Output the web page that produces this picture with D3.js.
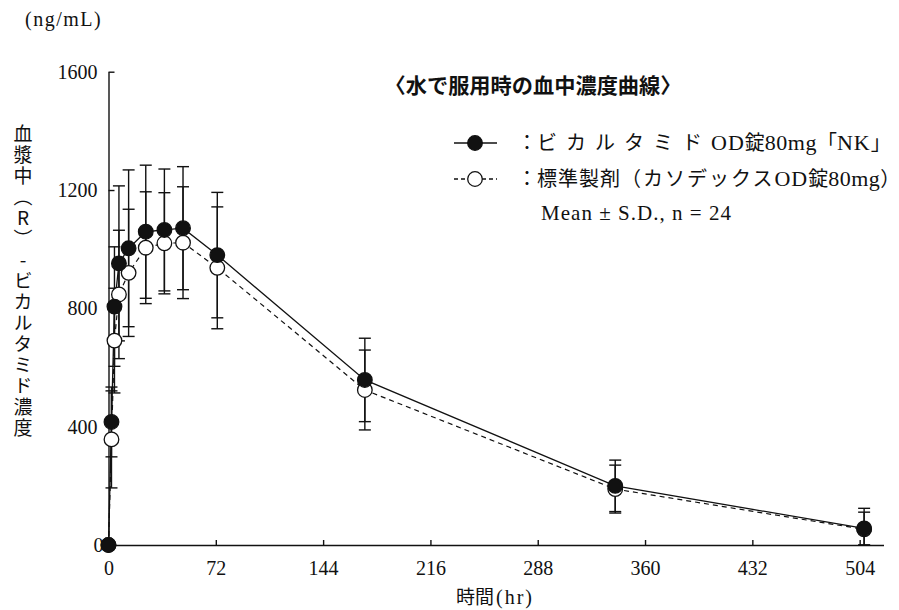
<!DOCTYPE html>
<html><head><meta charset="utf-8">
<script src="https://cdn.jsdelivr.net/npm/d3@7"></script>
<style>
html,body{margin:0;padding:0;background:#fff;}
svg{display:block;}
</style></head>
<body>
<script>
// ---- data ----
const hours    = [0, 2, 4, 7, 13.5, 25, 37.5, 50, 73, 172, 340, 507];
const testMean = [0, 416, 806, 952, 1003, 1059, 1065, 1071, 980, 558, 200, 56];
const testSD   = [0, 118, 202, 262, 265, 225, 206, 208, 212, 141, 87, 68];
const refMean  = [0, 357, 691, 847, 920, 1005, 1020, 1022, 937, 524, 189, 53];
const refSD    = [0, 164, 177, 217, 215, 189, 171, 189, 206, 135, 81, 58];
const yTicks   = [0, 400, 800, 1200, 1600];
const xTicks   = [0, 72, 144, 216, 288, 360, 432, 504];
// legend text split into segments: [text, font kind, letter-spacing]
const legend1 = [["：", "cjk", 0], ["ビカルタミド", "cjk", 9], ["OD", "serif", 1], ["錠", "cjk", 0], ["80mg", "serif", 0.5], ["「", "cjk", 0], ["NK", "serif", 1], ["」", "cjk", 0]];
const legend2 = [["：", "cjk", 0], ["標準製剤", "cjk", 1], ["（カソデックス", "cjk", 2], ["OD", "serif", 1], ["錠", "cjk", 0], ["80mg", "serif", 0.5], ["）", "cjk", 0]];
const statNote = "Mean ± S.D., n = 24";
const titleText = "〈水で服用時の血中濃度曲線〉";
const yUnit = "(ng/mL)";
const yTitle = "血漿中（R）-ビカルタミド濃度";
const xTitleJ = "時間";
const xTitleL = "(hr)";

const W = 899, H = 610;
const serif = "'Liberation Serif','DejaVu Serif',serif";
const cjk = "'Noto Sans CJK JP',sans-serif";
const ink = "#111";

const svg = d3.select("body").append("svg").attr("width", W).attr("height", H);

const x = d3.scaleLinear().domain([0, 520]).range([108.5, 883.5]);
const y = d3.scaleLinear().domain([0, 1600]).range([545, 71.7]);

// axes
const yAxis = d3.axisLeft(y).tickValues(yTicks).tickFormat(d3.format("d"))
  .tickSizeInner(-6).tickSizeOuter(0).tickPadding(11);
const xAxis = d3.axisBottom(x).tickValues(xTicks).tickFormat(d3.format("d"))
  .tickSizeInner(-5).tickSizeOuter(0).tickPadding(16);

const gy = svg.append("g").attr("transform", `translate(${x(0)},0)`).call(yAxis);
const gx = svg.append("g").attr("transform", `translate(0,${y(0)})`).call(xAxis);
[gx, gy].forEach(g => {
  g.attr("font-family", serif);
  g.selectAll("path,line").attr("stroke", ink).attr("stroke-width", 1.4);
  g.selectAll("text").attr("font-family", serif).attr("font-size", 20).attr("fill", ink);
});
gy.selectAll(".tick").filter(d => d === 0).select("text").attr("dx", 6);

const data = hours.map((h, i) => ({h, tm: testMean[i], ts: testSD[i], rm: refMean[i], rs: refSD[i]}));

// lines
const lineT = d3.line().x(d => x(d.h)).y(d => y(d.tm));
const lineR = d3.line().x(d => x(d.h)).y(d => y(d.rm));
svg.append("path").attr("d", lineR(data)).attr("fill", "none").attr("stroke", ink)
  .attr("stroke-width", 1.2).attr("stroke-dasharray", "5,4");
svg.append("path").attr("d", lineT(data)).attr("fill", "none").attr("stroke", ink)
  .attr("stroke-width", 1.3);

// error bars
function errBars(mKey, sKey) {
  const g = svg.append("g").attr("stroke", ink).attr("stroke-width", 1.4);
  data.filter(d => d[sKey] > 0).forEach(d => {
    const hi = d[mKey] + d[sKey], lo = Math.max(0, d[mKey] - d[sKey]);
    const cx = x(d.h);
    g.append("line").attr("x1", cx).attr("x2", cx).attr("y1", y(hi)).attr("y2", y(lo));
    [hi, lo].forEach(v => g.append("line").attr("x1", cx - 6).attr("x2", cx + 6).attr("y1", y(v)).attr("y2", y(v)));
  });
}
errBars("rm", "rs");
errBars("tm", "ts");

// markers
const R = 7.3;
svg.append("g").selectAll("circle").data(data).join("circle")
  .attr("cx", d => x(d.h)).attr("cy", d => y(d.rm)).attr("r", R)
  .attr("fill", "#fff").attr("stroke", ink).attr("stroke-width", 1.3);
svg.append("g").selectAll("circle").data(data).join("circle")
  .attr("cx", d => x(d.h)).attr("cy", d => y(d.tm)).attr("r", R)
  .attr("fill", ink).attr("stroke", ink).attr("stroke-width", 1.3);

// title
svg.append("text").attr("x", 533).attr("y", 93).attr("text-anchor", "middle")
  .attr("font-family", cjk).attr("font-size", 21).attr("font-weight", "bold").attr("fill", ink)
  .attr("textLength", 297).attr("lengthAdjust", "spacingAndGlyphs").text(titleText);

// legend
const legRows = [143, 179];
const lg = svg.append("g");
[legend1, legend2].forEach((segs, i) => {
  const ly = legRows[i];
  lg.append("line").attr("x1", 454).attr("x2", 497).attr("y1", ly).attr("y2", ly)
    .attr("stroke", ink).attr("stroke-width", 1.3).attr("stroke-dasharray", i ? "4,3" : null);
  lg.append("circle").attr("cx", 475).attr("cy", ly).attr("r", R)
    .attr("fill", i ? "#fff" : ink).attr("stroke", ink).attr("stroke-width", 1.3);
  const t = lg.append("text").attr("x", 517).attr("y", ly + 7).attr("font-size", 21).attr("fill", ink);
  segs.forEach(([s, f, ls]) => {
    t.append("tspan").attr("font-family", f === "cjk" ? cjk : serif)
      .attr("font-size", f === "cjk" ? 20 : 22)
      .attr("letter-spacing", ls).text(s);
  });
});
lg.append("text").attr("x", 541).attr("y", 220).attr("font-family", serif).attr("font-size", 21)
  .attr("fill", ink).attr("textLength", 190).attr("lengthAdjust", "spacing").text(statNote);

// axis titles
svg.append("text").attr("x", 25).attr("y", 26).attr("font-family", serif).attr("font-size", 20)
  .attr("fill", ink).attr("letter-spacing", 1.5).text(yUnit);
const xt = svg.append("text").attr("x", 495).attr("y", 604).attr("text-anchor", "middle")
  .attr("fill", ink);
xt.append("tspan").attr("font-family", cjk).attr("font-size", 19).text(xTitleJ);
xt.append("tspan").attr("font-family", serif).attr("font-size", 20).attr("letter-spacing", 2).attr("dx", 2).text(xTitleL);
svg.append("text").attr("x", 23).attr("y", 124)
  .attr("font-family", cjk).attr("font-size", 19).attr("fill", ink)
  .style("writing-mode", "vertical-rl").style("text-orientation", "upright")
  .attr("letter-spacing", 2).text(yTitle);
</script>
</body></html>
